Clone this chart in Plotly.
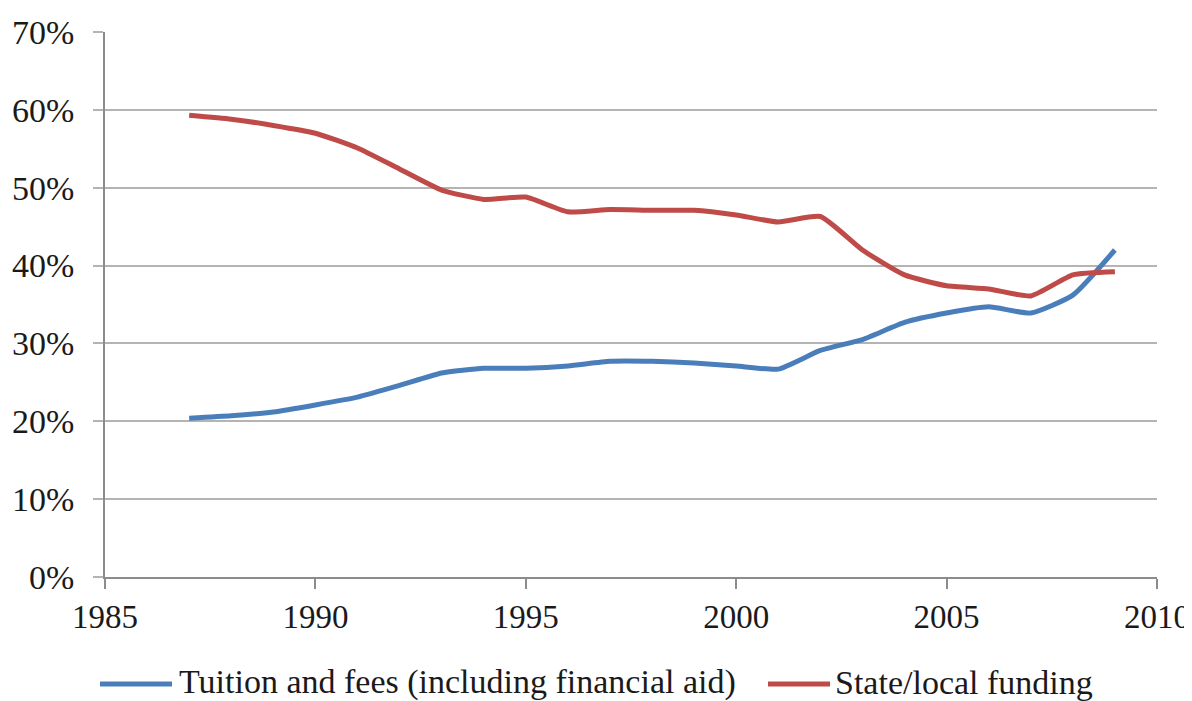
import plotly.graph_objects as go

years = list(range(1987, 2010))
tuition = [20.4, 20.7, 21.2, 22.1, 23.1, 24.6, 26.2, 26.8, 26.8, 27.1, 27.7, 27.7, 27.5,
           27.1, 26.7, 29.1, 30.5, 32.7, 33.9, 34.7, 33.9, 36.2, 42.0]
state_local = [59.3, 58.8, 58.0, 57.0, 55.1, 52.4, 49.7, 48.5, 48.8, 46.9, 47.2, 47.1, 47.1,
               46.5, 45.6, 46.3, 42.0, 38.8, 37.4, 37.0, 36.1, 38.8, 39.2]
y_ticks = [0, 10, 20, 30, 40, 50, 60, 70]
x_ticks = [1985, 1990, 1995, 2000, 2005, 2010]
names = ["Tuition and fees (including financial aid)", "State/local funding"]
colors = ["#4a7ebb", "#be4b48"]

FONT = "Liberation Serif"

# page has an 8px body margin; figure coordinates are page coordinates minus 8
OFF = 8
W, H = 1192 - OFF, 701 - OFF
ML, MR, MT, MB = 105 - OFF, 35, 32 - OFF, 124
PW, PH = W - ML - MR, H - MT - MB

fig = go.Figure()
for vals, name, col in zip([tuition, state_local], names, colors):
    fig.add_trace(go.Scatter(x=years, y=vals, mode="lines", name=name,
                             line=dict(color=col, width=5, shape="spline", smoothing=0.5)))

# manual legend at the bottom (positions given in page pixels)
def px_x(p):
    return (p - OFF - ML) / PW

def px_y(p):
    return (H - MB - (p - OFF)) / PH

legend_items = [(100, 172, 178), (768, 830, 834)]
for (x0, x1, tx), name, col in zip(legend_items, names, colors):
    fig.add_shape(type="line", xref="paper", yref="paper",
                  x0=px_x(x0), x1=px_x(x1), y0=px_y(684), y1=px_y(684),
                  line=dict(color=col, width=5))
    fig.add_annotation(xref="paper", yref="paper", x=px_x(tx), y=px_y(682),
                       xanchor="left", yanchor="middle", showarrow=False, text=name,
                       borderpad=0,
                       font=dict(size=34, family=FONT, color="#1a1a1a"))

fig.update_layout(
    width=W, height=H,
    margin=dict(l=ML, r=MR, t=MT, b=MB, autoexpand=False),
    paper_bgcolor="white", plot_bgcolor="white",
    font=dict(family=FONT, color="#1a1a1a", size=34),
    showlegend=False,
)
fig.update_xaxes(range=[1985, 2010], tickvals=x_ticks, ticktext=[str(v) for v in x_ticks],
                 showgrid=False, zeroline=False, showline=True, linecolor="#8c8c8c", linewidth=1.5,
                 ticks="outside", ticklen=10, tickcolor="#8c8c8c", tickwidth=1.5,
                 tickfont=dict(size=33, family=FONT), automargin=False)
fig.update_yaxes(range=[0, 70], tickvals=y_ticks, ticktext=[f"{v}%" for v in y_ticks],
                 showgrid=True, gridcolor="#b4b4b4", gridwidth=1.5, zeroline=False,
                 showline=True, linecolor="#8c8c8c", linewidth=1.5,
                 ticks="outside", ticklen=10, tickcolor="#b4b4b4", tickwidth=1.5,
                 ticklabelstandoff=12,
                 tickfont=dict(size=34, family=FONT), automargin=False)

fig.write_html("out.html")
